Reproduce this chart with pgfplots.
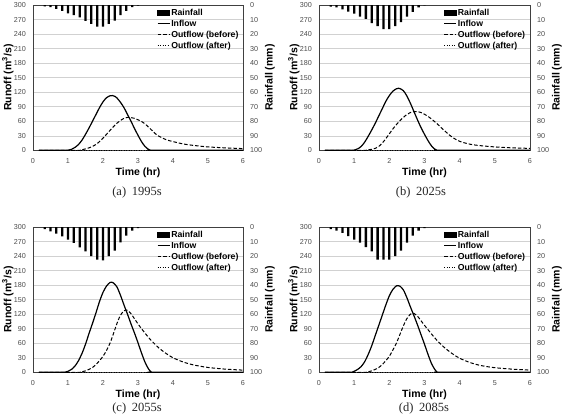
\documentclass[border=0pt]{standalone}
\usepackage{fontspec}
\setmainfont{Liberation Sans}
\newfontfamily\capfont{Liberation Serif}
\usepackage{pgfplots}
\pgfplotsset{compat=1.18}
\definecolor{gridc}{gray}{0.82}
\definecolor{tickc}{gray}{0.30}
\pgfplotsset{
  common/.style={scale only axis, height=145.3pt, xmin=0, xmax=6, major tick length=0pt,
    /pgf/number format/assume math mode=true,
    tick label style={font=\fontsize{7.2}{8}\selectfont, text=tickc},
    label style={font=\fontsize{10.5}{12}\selectfont\bfseries},
    axis line style={black!75, line width=0.7pt}},
  leftax/.style={common, ymin=0, ymax=300, xtick={0,1,...,6}, ytick={0,30,...,300},
    ymajorgrids, major grid style={gridc, line width=0.5pt},
    xticklabel style={yshift=-4.5pt}, yticklabel style={xshift=-3.5pt},
    xlabel={Time (hr)}, ylabel={Runoff (m\textsuperscript{3}/s)},
    xlabel style={at={(axis description cs:0.5,-0.158)}, anchor=center},
    ylabel style={at={(axis description cs:-0.119,0.5)}, anchor=center},
    legend style={at={(0.59,0.975)}, anchor=north west, draw=none, fill=none, inner sep=0pt,
      row sep=3.2pt, font=\fontsize{8.7}{9.5}\selectfont\bfseries,
      nodes={inner xsep=1pt, inner ysep=0pt}},
    legend cell align=left,
    legend image code/.code={\draw[##1] (0pt,0pt) -- (12pt,0pt);}},
  rightax/.style={common, ymin=0, ymax=100, y dir=reverse, axis x line=none, axis y line*=right,
    ytick={0,10,...,100}, yticklabel style={xshift=3.5pt},
    ylabel={Rainfall (mm)},
    ylabel style={at={(axis description cs:1.128,0.5)}, anchor=center, rotate=0}},
  inflow/.style={black, line width=1.2pt, smooth},
  outb/.style={black, line width=1pt, dash pattern=on 3.5pt off 2pt, smooth},
  outa/.style={black, line width=1pt, dash pattern=on 1pt off 1.5pt},
  rain/.style={ybar, bar width=2.3pt, bar shift=0pt, fill=black, draw=none}
}
\newcommand{\rainlegend}{\addlegendimage{legend image code/.code={\fill[black] (0pt,-2.4pt) rectangle (12pt,2.4pt);}}\addlegendentry{Rainfall}}
\begin{document}
\begin{tikzpicture}
\useasboundingbox (0,0) rectangle (566pt,416pt);
% ---------------- (a) 1995s
\begin{axis}[leftax, width=210pt, at={(33pt,265.7pt)}, anchor=south west]
\rainlegend
\addplot[inflow] coordinates {(0.1667,0) (0.9,0) (1.0,0.2) (1.1,2) (1.2,6) (1.3,12) (1.4,21) (1.5,33) (1.6,46) (1.7,60) (1.8,74) (1.9,88) (2.0,100) (2.1,108.5) (2.2,112.5) (2.27,113) (2.35,111) (2.4,108) (2.5,99) (2.6,88) (2.7,74) (2.8,60) (2.9,45) (3.0,31) (3.1,18) (3.2,8) (3.3,2) (3.35,0.3) (3.45,0) (6,0)};
\addlegendentry{Inflow}
\addplot[outb] coordinates {(0.1667,0) (1.3,0) (1.4,1) (1.5,3) (1.6,5) (1.7,8) (1.8,12) (1.9,18) (2.0,25) (2.1,33) (2.2,41) (2.3,49) (2.4,56) (2.5,61.5) (2.6,66) (2.7,68) (2.8,67.5) (2.9,66) (3.0,63) (3.1,59.5) (3.2,54.5) (3.3,48) (3.4,41) (3.5,34) (3.6,29) (3.8,22) (4.0,18) (4.3,13) (4.6,10) (5.0,7) (5.5,5) (6.0,3.5)};
\addlegendentry{Outflow (before)}
\addplot[outa] coordinates {(0.1667,0) (6,0)};
\addlegendentry{Outflow (after)}
\end{axis}
\begin{axis}[rightax, width=210pt, at={(33pt,265.7pt)}, anchor=south west]
\addplot[rain] coordinates {(0.3333,1) (0.5,1.5) (0.6667,2.7) (0.8333,4) (1.0,5.7) (1.1667,7) (1.3333,8.6) (1.5,11) (1.6667,13) (1.8333,14.8) (2.0,14.8) (2.1667,13) (2.3333,10.7) (2.5,7) (2.6667,4) (2.8333,1.5) (3.0,0.5)};
\end{axis}
\node[font=\capfont\fontsize{12.5}{14}\selectfont, text=black!85] at (137pt,224pt) {(a)\hspace{0.45em}1995s};
% ---------------- (b) 2025s
\begin{axis}[leftax, width=211pt, at={(319pt,265.7pt)}, anchor=south west]
\rainlegend
\addplot[inflow] coordinates {(0.1667,0) (0.9,0) (1.0,0.3) (1.1,3) (1.2,8) (1.3,17) (1.4,29) (1.5,42) (1.6,56) (1.7,71) (1.8,86) (1.9,101) (2.0,113) (2.1,122) (2.2,127) (2.26,128) (2.3,127.5) (2.4,123) (2.5,112) (2.6,97) (2.7,80) (2.8,63) (2.9,47) (3.0,33) (3.1,20) (3.2,9) (3.3,2) (3.35,0.3) (3.45,0) (6,0)};
\addlegendentry{Inflow}
\addplot[outb] coordinates {(0.1667,0) (1.3,0) (1.4,1) (1.5,2) (1.6,4) (1.7,8) (1.8,15) (1.9,24) (2.0,34) (2.1,44) (2.2,53) (2.3,61) (2.4,68) (2.5,74) (2.6,78) (2.7,80) (2.8,80) (2.9,78) (3.0,74.5) (3.1,70) (3.2,64.5) (3.3,58.5) (3.4,52) (3.5,45) (3.6,38.5) (3.7,32) (3.8,26.5) (4.0,18.5) (4.3,12.5) (4.6,9.5) (5.0,7) (5.5,5) (6.0,4)};
\addlegendentry{Outflow (before)}
\addplot[outa] coordinates {(0.1667,0) (6,0)};
\addlegendentry{Outflow (after)}
\end{axis}
\begin{axis}[rightax, width=211pt, at={(319pt,265.7pt)}, anchor=south west]
\addplot[rain] coordinates {(0.3333,1.1) (0.5,1.6) (0.6667,3) (0.8333,4.5) (1.0,6) (1.1667,8) (1.3333,9.5) (1.5,12.5) (1.6667,14.5) (1.8333,16.6) (2.0,16.6) (2.1667,14.5) (2.3333,11.8) (2.5,8) (2.6667,4.8) (2.8333,1.6) (3.0,0.3)};
\end{axis}
\node[font=\capfont\fontsize{12.5}{14}\selectfont, text=black!85] at (421pt,224pt) {(b)\hspace{0.45em}2025s};
% ---------------- (c) 2055s
\begin{axis}[leftax, width=210pt, at={(33pt,43.7pt)}, anchor=south west]
\rainlegend
\addplot[inflow] coordinates {(0.1667,0) (0.85,0) (0.9,0.2) (1.0,2) (1.1,6) (1.2,13) (1.3,24) (1.4,39) (1.5,58) (1.6,80) (1.7,101) (1.8,123) (1.9,146) (2.0,165) (2.1,178) (2.2,185.5) (2.25,186) (2.3,184.5) (2.4,176) (2.5,159) (2.6,139) (2.7,120) (2.8,100) (2.9,81) (3.0,61) (3.1,40) (3.2,21) (3.3,7) (3.38,0.5) (3.45,0) (6,0)};
\addlegendentry{Inflow}
\addplot[outb] coordinates {(0.1667,0) (1.3,0) (1.4,1) (1.5,3) (1.6,6) (1.7,10) (1.8,16) (1.9,24) (2.0,33) (2.1,45) (2.2,60) (2.3,80) (2.4,101) (2.5,118) (2.6,127) (2.65,128.5) (2.7,128) (2.8,121) (2.9,110.5) (3.0,100) (3.1,90) (3.2,81) (3.3,72) (3.4,64) (3.5,57) (3.6,50) (3.8,39) (4.0,30) (4.3,21) (4.6,15) (5.0,10) (5.5,6.5) (6.0,4.5)};
\addlegendentry{Outflow (before)}
\addplot[outa] coordinates {(0.1667,0) (6,0)};
\addlegendentry{Outflow (after)}
\end{axis}
\begin{axis}[rightax, width=210pt, at={(33pt,43.7pt)}, anchor=south west]
\addplot[rain] coordinates {(0.3333,1.4) (0.5,3) (0.6667,4.6) (0.8333,6.4) (1.0,8.7) (1.1667,11) (1.3333,14) (1.5,16.8) (1.6667,20) (1.8333,22.5) (2.0,23) (2.1667,20) (2.3333,16.3) (2.5,10.6) (2.6667,6) (2.8333,2.5) (3.0,0.7)};
\end{axis}
\node[anchor=south, inner sep=0pt, font=\capfont\fontsize{12.5}{14}\selectfont, text=black!85] at (137pt,1.5pt) {(c)\hspace{0.45em}2055s};
% ---------------- (d) 2085s
\begin{axis}[leftax, width=211pt, at={(319pt,43.7pt)}, anchor=south west]
\rainlegend
\addplot[inflow] coordinates {(0.1667,0) (0.88,0) (0.95,0.5) (1.0,2) (1.1,6) (1.2,12) (1.3,22) (1.4,37) (1.5,55) (1.6,76) (1.7,97) (1.8,118) (1.9,139) (2.0,158) (2.1,171) (2.2,178.5) (2.24,179) (2.3,178) (2.4,170) (2.5,154) (2.6,135) (2.7,117) (2.8,98) (2.9,78) (3.0,58) (3.1,37) (3.2,18) (3.3,5) (3.36,0.5) (3.45,0) (6,0)};
\addlegendentry{Inflow}
\addplot[outb] coordinates {(0.1667,0) (1.3,0) (1.4,1) (1.5,3) (1.6,6) (1.7,10) (1.8,16) (1.9,24) (2.0,33) (2.1,46) (2.2,60) (2.3,78) (2.4,96) (2.5,111) (2.6,120) (2.65,122) (2.7,121.5) (2.8,116) (2.9,106.5) (3.0,97) (3.1,88) (3.2,79) (3.3,70.5) (3.4,62.5) (3.5,55.5) (3.6,49) (3.8,38) (4.0,29) (4.3,20) (4.6,14) (5.0,9.5) (5.5,6.5) (6.0,4.5)};
\addlegendentry{Outflow (before)}
\addplot[outa] coordinates {(0.1667,0) (6,0)};
\addlegendentry{Outflow (after)}
\end{axis}
\begin{axis}[rightax, width=211pt, at={(319pt,43.7pt)}, anchor=south west]
\addplot[rain] coordinates {(0.3333,1.4) (0.5,2.5) (0.6667,4) (0.8333,6.2) (1.0,8.7) (1.1667,10.8) (1.3333,13.8) (1.5,16.8) (1.6667,22.5) (1.8333,22.5) (2.0,22.5) (2.1667,20) (2.3333,16.3) (2.5,10.8) (2.6667,6) (2.8333,2.5) (3.0,0.7)};
\end{axis}
\node[anchor=south, inner sep=0pt, font=\capfont\fontsize{12.5}{14}\selectfont, text=black!85] at (424pt,1.5pt) {(d)\hspace{0.45em}2085s};
\end{tikzpicture}
\end{document}
